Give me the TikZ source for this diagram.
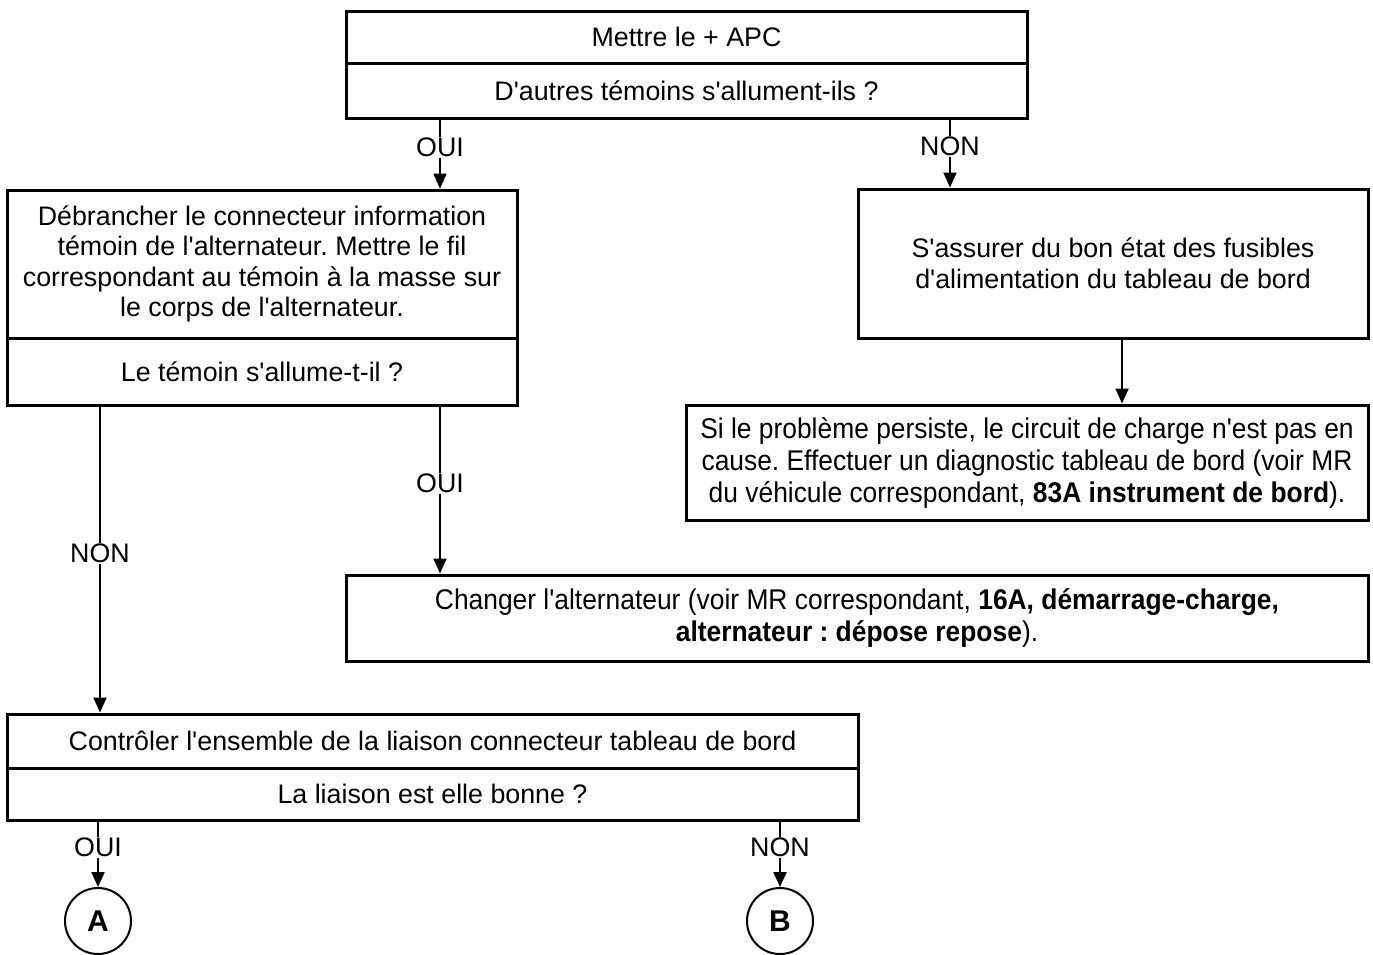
\documentclass[tikz,border=0pt]{standalone}
\usepackage{fontspec}
\setmainfont{Liberation Sans}[Ligatures=TeXOff]
\newfontfamily\narrowfont[FakeStretch=0.926]{Liberation Sans}
\usetikzlibrary{arrows.meta}
\begin{document}
\frenchspacing
\begin{tikzpicture}[x=1pt,y=-1pt,
  every node/.style={font=\fontsize{26.8}{30.5}\selectfont},
  box/.style={draw,line width=3pt,inner sep=0pt,align=center},
  nbox/.style={box,font=\narrowfont\fontsize{28.5}{32}\selectfont},
  arr/.style={line width=2pt,-{Triangle[width=13pt,length=15pt]}},
  lab/.style={fill=white,inner sep=1pt,font=\fontsize{26.8}{28}\selectfont},
  circ/.style={draw,circle,line width=2pt,minimum size=66pt,inner sep=0pt,font=\fontsize{30}{32}\selectfont\bfseries}
]
\useasboundingbox (0,0) rectangle (1373,954);
% top
\node[box,minimum width=681pt,minimum height=52pt] (t1) at (686.5,37) {Mettre le + APC};
\node[box,minimum width=681pt,minimum height=55pt] (t2) at (686.5,90.5) {D'autres témoins s'allument-ils ?};
% left
\node[box,minimum width=510pt,minimum height=148pt] (l1) at (262,264) {Débrancher le connecteur information\\témoin de l'alternateur. Mettre le fil\\correspondant au témoin à la masse sur\\le corps de l'alternateur.};
\node[box,minimum width=510pt,minimum height=67pt] (l2) at (262,371.5) {Le témoin s'allume-t-il ?};
% right
\node[box,minimum width=510pt,minimum height=149pt] (r1) at (1113,263.5) {S'assurer du bon état des fusibles\\d'alimentation du tableau de bord};
\node[nbox,minimum width=682pt,minimum height=115pt] (r2) at (1027,462.5) {Si le problème persiste, le circuit de charge n'est pas en\\cause. Effectuer un diagnostic tableau de bord (voir MR\\du véhicule correspondant, \textbf{83A instrument de bord}).};
% changer
\node[nbox,minimum width=1022pt,minimum height=86pt] (ch) at (857,618) {Changer l'alternateur (voir MR correspondant, \textbf{16A, démarrage-charge,}\\\textbf{alternateur : dépose repose}).};
% controler
\node[box,minimum width=851pt,minimum height=54pt] (c1) at (432.5,741) {Contrôler l'ensemble de la liaison connecteur tableau de bord};
\node[box,minimum width=851pt,minimum height=52pt] (c2) at (432.5,794) {La liaison est elle bonne ?};
% circles
\node[circ] (A) at (98,921) {A};
\node[circ] (B) at (780,921) {B};
% x coords
\coordinate (xa) at (440,0);
\coordinate (xb) at (950,0);
\coordinate (xc) at (1122,0);
\coordinate (xd) at (100,0);
\coordinate (xe) at (98,0);
\coordinate (xf) at (780,0);
% arrows
\draw[arr] (t2.south -| xa) -- node[lab,pos=0.4]{OUI} (l1.north -| xa);
\draw[arr] (t2.south -| xb) -- node[lab,pos=0.4]{NON} (r1.north -| xb);
\draw[arr] (r1.south -| xc) -- (r2.north -| xc);
\draw[arr] (l2.south -| xa) -- node[lab,pos=0.46]{OUI} (ch.north -| xa);
\draw[arr] (l2.south -| xd) -- node[lab,pos=0.48]{NON} (c1.north -| xd);
\draw[arr] (c2.south -| xe) -- node[lab,pos=0.39]{OUI} (A.north);
\draw[arr] (c2.south -| xf) -- node[lab,pos=0.39]{NON} (B.north);
\end{tikzpicture}
\end{document}
